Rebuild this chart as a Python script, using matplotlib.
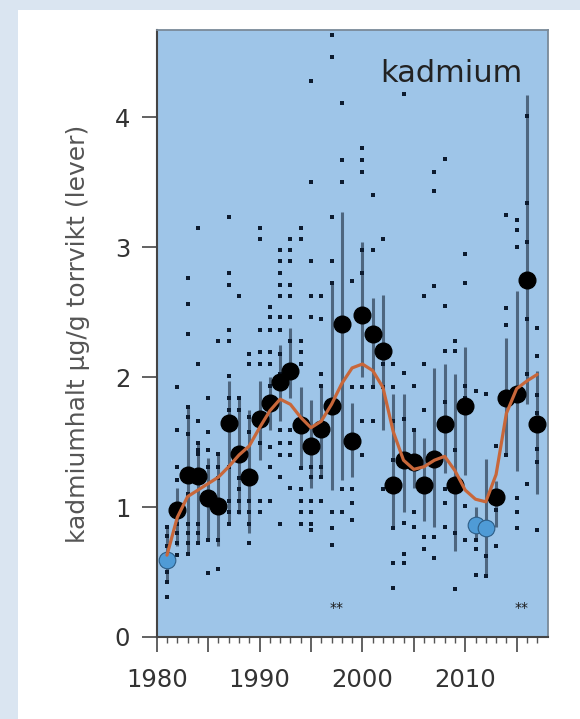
import matplotlib
matplotlib.use('Agg')
import matplotlib.pyplot as plt
import numpy as np
from matplotlib.patches import Rectangle

# yearly data
years = list(range(1981, 2018))
median = [0.59, 0.98, 1.25, 1.24, 1.07, 1.01, 1.65, 1.41, 1.23, 1.68,
          1.80, 1.96, 2.05, 1.63, 1.47, 1.60, 1.78, 2.41, 1.51, 2.48,
          2.33, 2.20, 1.17, 1.36, 1.35, 1.17, 1.37, 1.64, 1.17, 1.78,
          0.86, 0.84, 1.08, 1.84, 1.87, 2.75, 1.64]
blue_years = [1981, 2011, 2012]
line_lo = [0.42, 0.70, 0.65, 0.72, 0.75, 0.70, 0.88, 0.95, 0.80, 1.36,
           1.59, 1.66, 1.84, 1.31, 1.15, 1.23, 1.13, 1.21, 1.23, 2.00,
           1.92, 1.59, 0.84, 0.96, 1.15, 0.89, 0.85, 1.26, 0.66, 1.25,
           0.75, 0.47, 0.85, 1.40, 1.28, 1.79, 1.10]
line_hi = [0.85, 1.15, 1.77, 1.49, 1.38, 1.41, 1.97, 1.84, 1.75, 1.97,
           2.00, 2.25, 2.38, 1.92, 1.82, 1.93, 2.74, 3.27, 1.80, 3.04,
           2.61, 2.63, 1.87, 1.87, 1.59, 1.53, 2.07, 2.10, 2.02, 2.23,
           1.00, 1.37, 1.20, 2.30, 2.66, 4.17, 2.05]
points = {
    1981: [0.31, 0.42, 0.50, 0.55, 0.62, 0.70, 0.78, 0.85],
    1982: [1.92, 1.59, 1.31, 1.21, 0.87, 0.80, 0.72, 0.63],
    1983: [2.76, 2.56, 2.33, 1.77, 1.69, 1.56, 1.10, 0.87, 0.80, 0.72, 0.64],
    1984: [3.15, 2.10, 1.66, 1.49, 1.44, 1.41, 0.87, 0.80, 0.72],
    1985: [1.84, 1.58, 1.44, 1.31, 0.75, 0.49],
    1986: [2.28, 1.41, 1.31, 1.22, 0.75, 0.52],
    1987: [3.23, 2.80, 2.71, 2.36, 2.28, 2.01, 1.84, 1.75, 1.31, 1.05, 0.96, 0.87],
    1988: [2.62, 1.84, 1.75, 1.22, 1.14, 1.05, 0.96],
    1989: [2.18, 2.10, 1.69, 1.58, 1.05, 0.96, 0.87, 0.72],
    1990: [3.15, 3.06, 2.36, 2.19, 2.10, 1.49, 1.05, 0.96],
    1991: [2.54, 2.46, 2.36, 2.19, 2.10, 1.93, 1.46, 1.31, 1.05],
    1992: [2.98, 2.89, 2.80, 2.71, 2.62, 2.46, 2.36, 2.18, 2.02, 1.59, 1.49, 1.40, 1.23, 0.87],
    1993: [3.06, 2.98, 2.89, 2.71, 2.62, 2.46, 2.28, 1.59, 1.49, 1.40, 1.15],
    1994: [3.15, 3.06, 2.28, 2.19, 2.10, 1.30, 1.14, 1.05, 0.96, 0.87],
    1995: [4.28, 3.50, 2.89, 2.62, 2.46, 1.31, 1.23, 1.05, 0.96, 0.87, 0.82],
    1996: [2.62, 2.45, 2.02, 1.93, 1.31, 1.23, 1.05],
    1997: [4.63, 4.46, 3.23, 2.89, 2.72, 0.96, 0.84, 0.71],
    1998: [4.11, 3.67, 3.50, 1.14, 0.96],
    1999: [2.74, 1.92, 1.14, 1.03, 0.90],
    2000: [3.76, 3.67, 3.58, 2.98, 2.80, 1.92, 1.66, 1.40],
    2001: [3.40, 2.98, 1.92, 1.66],
    2002: [3.06, 2.10, 1.92, 1.14],
    2003: [2.10, 1.92, 1.66, 1.36, 0.84, 0.57, 0.38],
    2004: [4.18, 2.03, 1.68, 0.88, 0.64, 0.57],
    2005: [1.93, 1.59, 0.96, 0.85],
    2006: [2.62, 2.10, 1.75, 0.77, 0.68],
    2007: [3.58, 3.43, 2.70, 0.77, 0.61],
    2008: [3.68, 2.55, 2.20, 1.81, 1.14, 1.03, 0.85],
    2009: [2.28, 2.20, 1.44, 0.80, 0.37],
    2010: [2.95, 2.72, 1.93, 1.84, 1.01, 0.75],
    2011: [1.89, 0.75, 0.68, 0.48],
    2012: [1.87, 0.62, 0.47],
    2013: [1.47, 0.98, 0.70],
    2014: [3.25, 2.53, 2.40, 1.40],
    2015: [3.21, 3.13, 3.00, 1.07, 0.96, 0.84],
    2016: [4.01, 3.34, 3.04, 2.45, 2.02, 1.18],
    2017: [2.38, 2.16, 1.86, 1.72, 1.45, 1.35, 0.82],
}
smooth = [0.63, 0.92, 1.08, 1.13, 1.18, 1.23, 1.31, 1.40, 1.47, 1.61,
          1.74, 1.83, 1.79, 1.69, 1.61, 1.66, 1.79, 1.95, 2.07, 2.10,
          2.05, 1.92, 1.58, 1.36, 1.29, 1.31, 1.36, 1.39, 1.28, 1.13,
          1.06, 1.04, 1.25, 1.72, 1.91, 1.97, 2.02]
star_x = [1997.5, 2015.5]
star_y = 0.22

fig = plt.figure(figsize=(5.8, 7.19), dpi=100)
fig.patch.set_facecolor('#dae5f1')
fig.add_artist(Rectangle((18/580, 0), 1, 1 - 10/719, transform=fig.transFigure,
                         facecolor='white', edgecolor='none', zorder=-10))

ax = fig.add_axes([156.7/580, 82/719, 390.8/580, 607/719])
ax.set_facecolor('#9ec5e8')

# vertical range lines
ax.vlines(years, line_lo, line_hi, color='#34475c', alpha=0.75, lw=2.2, zorder=2)

# individual values
for yr, vals in points.items():
    ax.plot([yr] * len(vals), vals, 's', ms=2.8, color='#0d1b2e', mew=0, zorder=3)

# yearly medians
for yr, m in zip(years, median):
    if yr in blue_years:
        ax.plot(yr, m, 'o', ms=12, color='#4f9bd6', mec='#2d5d86', mew=0.8, zorder=4)
    else:
        ax.plot(yr, m, 'o', ms=12, color='black', zorder=4)

# smoothed trend
ax.plot(years, smooth, color='#c8673a', lw=2.3, zorder=5, solid_capstyle='round')

for sx in star_x:
    ax.text(sx, star_y, '**', ha='center', va='center', fontsize=10, color='#1a1a1a')

ax.text(2015.6, 4.27, 'kadmium', ha='right', va='baseline', fontsize=22, color='#222222')

ax.set_xlim(1980, 2018)
ax.set_ylim(0, 4.67)
ax.set_xticks(range(1980, 2016, 5))
ax.set_xticklabels(['1980', '', '1990', '', '2000', '', '2010', ''])
ax.set_xticks(range(1981, 2018), minor=True)
ax.set_yticks([0, 1, 2, 3, 4])
ax.tick_params(axis='both', which='major', length=11, width=1.3, color='#555555',
               labelsize=17.5, labelcolor='#333333')
ax.tick_params(axis='x', which='major', pad=11)
ax.tick_params(axis='y', which='major', pad=8)
ax.tick_params(axis='x', which='minor', length=4, width=1, color='#555555')

for side in ['left', 'bottom']:
    ax.spines[side].set_color('#444444')
    ax.spines[side].set_linewidth(1.5)
for side in ['top', 'right']:
    ax.spines[side].set_color('#7a8a99')
    ax.spines[side].set_linewidth(1.3)

ax.set_ylabel('kadmiumhalt µg/g torrvikt (lever)', fontsize=18, color='#555555', labelpad=18)

fig.savefig('out.png', dpi=100, facecolor=fig.get_facecolor())
